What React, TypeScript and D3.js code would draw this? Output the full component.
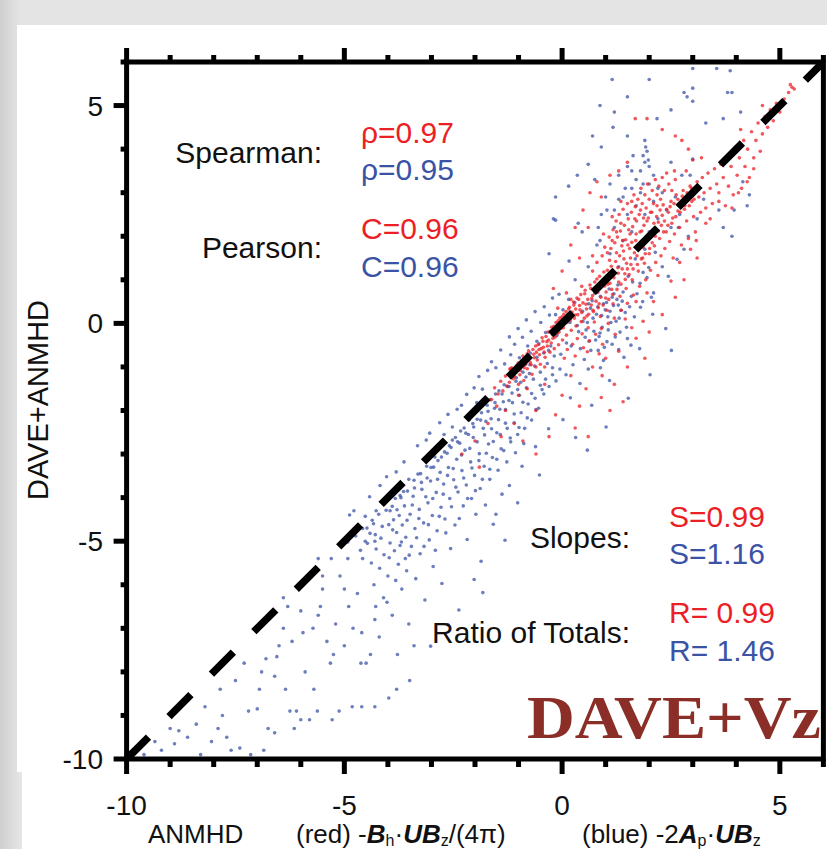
import React, { useEffect, useRef } from 'react';
import * as d3 from 'd3';

type Pt = [number, number];

// ---- blue: -2 A_p . U B_z vs DAVE+ANMHD ----
const blueTail: Pt[] = [
  [-9.6, -9.9], [-9.2, -9.8], [-8.9, -9.65], [-8.6, -9.5], [-8.4, -9.2], [-8.8, -9.35], [-8.2, -8.8],
  [-8.05, -9.6], [-7.9, -9.3], [-7.7, -9.5], [-7.85, -8.4], [-7.6, -9.8], [-7.5, -8.2], [-7.4, -9.75],
  [-7.3, -7.8], [-7.2, -8.9], [-7.15, -9.9], [-7.0, -8.85], [-6.95, -8.4], [-6.9, -8.0], [-6.85, -9.8],
  [-6.8, -7.7], [-6.75, -9.3], [-6.6, -9.4], [-6.6, -8.1], [-6.55, -7.65], [-6.5, -7.4], [-6.4, -7.0],
  [-6.4, -6.3], [-6.35, -8.4], [-6.3, -6.5], [-6.25, -8.9], [-6.2, -7.3], [-6.15, -9.3], [-6.1, -8.9],
  [-6.0, -9.1], [-6.0, -6.6], [-5.95, -7.1], [-8.3, -9.9], [-7.8, -9.0], [-9.0, -9.3], [-9.35, -9.6],
];

const blueMid: Pt[] = [
  [-5.9, -8.0], [-5.8, -9.1], [-5.7, -8.4], [-5.72, -7.0], [-5.6, -6.7], [-5.55, -6.5], [-5.62, -8.9],
  [-5.5, -5.8], [-5.6, -5.4], [-5.3, -5.4], [-5.32, -7.8], [-5.25, -7.6], [-5.28, -9.1], [-5.1, -5.8],
  [-5.12, -8.9], [-5.0, -6.1], [-4.9, -6.5], [-4.92, -5.4], [-4.88, -4.4], [-4.8, -7.0], [-4.78, -4.3],
  [-4.82, -8.8], [-4.6, -7.1], [-4.62, -7.8], [-4.58, -5.4], [-4.6, -8.8], [-4.5, -7.8], [-4.52, -5.0],
  [-4.48, -4.7], [-4.4, -7.6], [-4.3, -5.0], [-4.32, -6.0], [-4.28, -6.5], [-4.3, -6.8], [-4.33, -4.6],
  [-4.27, -4.3], [-4.3, -8.8], [-4.1, -6.3], [-4.0, -5.8], [-4.02, -6.4], [-3.98, -8.6], [-3.9, -4.2],
  [-3.8, -4.8], [-3.82, -5.9], [-3.78, -7.6], [-3.8, -8.4], [-3.7, -4.0], [-3.72, -5.1], [-3.68, -6.1],
  [-3.6, -5.4], [-3.5, -8.2], [-3.52, -6.9], [-3.4, -7.4], [-5.5, -6.1], [-5.2, -6.9], [-4.7, -6.2],
  [-4.2, -7.2], [-3.9, -6.7], [-5.4, -7.3], [-5.0, -7.4],
];

const blueBand: Pt[] = [
  [-4.92, -5.02], [-4.74, -4.88], [-4.63, -5.21], [-4.52, -4.43], [-4.41, -4.82], [-4.38, -5.5],
  [-4.27, -5.18], [-4.21, -4.38], [-4.16, -4.93], [-4.09, -5.31], [-4.06, -4.07], [-3.98, -4.62],
  [-3.95, -5.04], [-3.91, -3.88], [-3.87, -4.51], [-3.85, -5.22], [-3.79, -4.28], [-3.76, -5.53],
  [-3.7, -3.72], [-3.67, -4.63], [-3.62, -4.19], [-3.59, -4.91], [-3.57, -5.68], [-3.52, -3.58],
  [-3.49, -4.38], [-3.46, -5.12], [-3.42, -3.97], [-3.38, -4.71], [-3.36, -5.86], [-3.31, -3.46],
  [-3.28, -4.27], [-3.26, -5.29], [-3.22, -3.81], [-3.18, -4.58], [-3.15, -6.35], [-3.11, -3.28],
  [-3.08, -4.12], [-3.05, -4.97], [-3.02, -3.62], [-2.98, -4.41], [-2.96, -5.58], [-2.92, -3.07],
  [-2.89, -3.88], [-2.87, -4.76], [-2.83, -2.81], [-2.8, -3.42], [-2.78, -4.22], [-2.76, -5.97],
  [-2.72, -3.69], [-2.69, -4.49], [-2.64, -2.98], [-2.61, -3.31], [-2.58, -4.02], [-2.56, -5.17],
  [-2.52, -2.68], [-2.49, -3.59], [-2.46, -4.63], [-2.42, -3.12], [-2.39, -3.87], [-2.37, -6.58],
  [-2.33, -2.47], [-2.3, -3.38], [-2.27, -4.19], [-2.23, -2.91], [-2.2, -3.71], [-2.18, -4.96],
  [-2.13, -2.21], [-2.1, -3.18], [-2.08, -4.02], [-2.04, -2.62], [-2.01, -3.49], [-1.98, -4.38],
  [-1.93, -1.98], [-1.9, -2.99], [-1.88, -3.79], [-1.86, -5.46], [-1.81, -2.41], [-1.79, -3.28],
  [-1.76, -4.17], [-1.72, -1.88], [-1.69, -2.77], [-1.66, -3.58], [-1.63, -2.19], [-1.6, -3.08],
  [-1.58, -4.61], [-1.53, -1.62], [-1.5, -2.51], [-1.47, -3.37], [-1.43, -1.97], [-1.4, -2.88],
  [-1.38, -3.92], [-1.33, -1.41], [-1.3, -2.29], [-1.27, -3.18], [-1.22, -1.77], [-1.19, -2.63],
  [-1.13, -1.19], [-1.1, -2.08], [-1.07, -2.97], [-1.02, -1.52], [-0.99, -2.39], [-0.93, -0.91],
  [-0.9, -1.81], [-0.88, -2.76], [-0.83, -1.23], [-0.8, -2.17], [-0.73, -0.68], [-0.7, -1.61],
  [-0.63, -0.98], [-0.6, -1.98], [-0.53, -0.47], [-0.5, -1.42],
  // above the diagonal
  [-4.42, -3.98], [-4.03, -3.52], [-3.63, -3.18], [-3.32, -2.81], [-3.04, -2.52], [-2.81, -2.28],
  [-2.62, -2.09], [-2.41, -1.97], [-2.19, -1.63], [-2.02, -1.48], [-1.91, -1.22], [-1.83, -1.51],
  [-1.71, -1.08], [-1.62, -0.88], [-1.52, -1.02], [-1.41, -0.61], [-1.32, -0.93], [-1.21, -0.31],
  [-1.18, -0.72], [-1.09, -0.48], [-1.01, -0.12], [-0.98, -0.79], [-0.91, -0.32], [-0.82, 0.08],
  [-0.79, -0.52], [-0.71, -0.18], [-0.62, 0.27], [-0.58, -0.41], [-0.49, 0.02], [-0.41, 0.38],
  [-0.38, -0.21], [-0.29, 0.19], [-0.22, 0.58], [-3.81, -3.41], [-3.12, -2.68], [-2.52, -2.38],
  [-2.31, -1.88], [-4.18, -3.72], [-2.71, -2.55], [-1.96, -1.82],
  // on the diagonal
  [-3.95, -4.3], [-3.72, -3.95], [-3.55, -3.85], [-3.4, -3.6], [-3.25, -3.45], [-3.1, -3.55],
  [-2.95, -3.3], [-2.85, -3.15], [-2.7, -2.95], [-2.55, -2.85], [-2.45, -2.62], [-2.35, -2.75],
  [-2.25, -2.4], [-2.15, -2.55], [-2.05, -2.3], [-1.95, -2.2], [-1.85, -2.05], [-1.75, -2.25],
  [-1.65, -1.75], [-1.55, -1.95], [-1.45, -1.55], [-1.35, -1.8], [-1.25, -1.45], [-1.15, -1.6],
  [-1.05, -1.25], [-0.95, -1.35], [-0.85, -0.95], [-0.75, -1.15],
];

const blueBand2: Pt[] = [
  [-4.58, -4.71], [-4.47, -5.05], [-4.36, -4.52], [-4.29, -4.85], [-4.19, -5.62], [-4.13, -4.66],
  [-4.04, -4.29], [-3.97, -5.38], [-3.89, -4.74], [-3.83, -4.02], [-3.74, -4.41], [-3.69, -5.02],
  [-3.64, -3.86], [-3.56, -4.52], [-3.51, -5.32], [-3.44, -4.17], [-3.39, -3.78], [-3.34, -4.92],
  [-3.29, -4.48], [-3.23, -3.65], [-3.17, -5.12], [-3.13, -3.98], [-3.07, -4.62], [-3.01, -3.31],
  [-2.97, -4.02], [-2.91, -5.21], [-2.86, -3.58], [-2.82, -4.43], [-2.77, -3.07], [-2.73, -3.92],
  [-2.67, -4.81], [-2.63, -3.49], [-2.59, -2.81], [-2.54, -4.21], [-2.5, -3.33], [-2.44, -3.76],
  [-2.4, -2.72], [-2.36, -4.48], [-2.31, -3.02], [-2.26, -3.55], [-2.21, -2.52], [-2.17, -4.02],
  [-2.12, -2.87], [-2.07, -3.32], [-2.03, -2.38], [-1.99, -3.84], [-1.95, -2.72], [-1.91, -3.15],
  [-1.87, -2.22], [-1.83, -3.58], [-1.78, -2.56], [-1.74, -2.98], [-1.7, -2.02], [-1.66, -3.35],
  [-1.62, -2.42], [-1.58, -2.71], [-1.54, -1.82], [-1.5, -3.12], [-1.46, -2.21], [-1.42, -2.55],
  [-1.38, -1.62], [-1.34, -2.92], [-1.3, -1.98], [-1.26, -2.41], [-1.22, -1.45], [-1.18, -2.72],
  [-1.14, -1.82], [-1.1, -2.28], [-1.06, -1.33], [-1.02, -2.55], [-0.98, -1.65], [-0.94, -2.05],
  [-0.9, -1.12], [-0.86, -2.41], [-0.82, -1.48], [-0.78, -1.85], [-0.74, -0.95], [-0.7, -2.22],
  [-0.66, -1.28], [-0.62, -1.72], [-0.58, -0.78], [-0.54, -1.95], [-0.5, -1.12], [-0.46, -1.52],
  [-0.42, -0.68], [-0.38, -1.28], [-0.34, -0.92], [-0.3, -1.45], [-0.26, -0.52], [-0.22, -1.18],
  [-0.18, -0.75], [-0.14, -1.32],
];

const blueCore: Pt[] = [
  [-0.31, -0.62], [-0.22, -1.02], [-0.12, -0.28], [-0.03, -0.71], [0.02, 0.31], [0.09, -1.18],
  [0.18, 0.02], [0.21, -0.52], [0.29, 0.48], [0.38, -0.19], [0.47, 0.28], [0.51, -0.83], [0.58, 0.02],
  [0.62, -0.41], [0.69, 0.52], [0.73, -0.18], [0.79, 0.21], [0.83, -0.62], [0.88, 0.62], [0.92, -0.09],
  [0.99, 0.31], [1.03, -0.42], [1.08, 0.79], [1.12, 0.02], [1.18, 0.41], [1.22, -0.31], [1.28, 0.88],
  [1.31, 0.12], [1.38, 0.51], [1.48, -0.09], [1.52, 1.08], [1.59, 0.62], [1.68, 1.48], [1.79, 0.92],
  [1.88, 1.91], [1.99, 1.28], [0.41, -1.38], [0.88, -1.02], [1.42, -0.78], [-0.42, -1.62], [0.19, -1.71],
  [0.68, -1.88], [1.09, -1.31], [2.08, 0.21], [2.38, -0.12], [1.78, -0.58], [0.65, 0.35], [0.75, 0.7],
  [0.95, 0.45], [1.15, 0.6], [1.35, 0.3], [0.55, -0.15], [0.85, -0.3], [1.05, 0.15],
  [0.42, -0.58], [0.48, 0.05], [0.53, -0.32], [0.61, 0.45], [0.66, -0.62], [0.71, 0.12], [0.77, -0.38],
  [0.82, 0.38], [0.87, -0.22], [0.91, 0.18], [0.97, -0.55], [1.02, 0.48], [1.06, -0.15], [1.1, 0.28],
  [1.15, -0.48], [1.19, 0.68], [1.24, 0.05], [1.29, 0.42], [1.33, -0.2], [1.4, 0.72], [1.45, 0.25],
  [1.5, -0.35], [1.55, 0.38], [1.62, 0.95], [1.66, 0.15], [1.72, 0.68], [1.3, -0.6], [0.95, -0.85],
  [0.6, -1.05], [0.25, -0.95], [0.1, -0.45], [-0.05, -1.05], [1.85, 0.5], [1.95, 1.05], [2.05, 0.6],
  [1.58, -0.5], [0.35, -0.05], [0.15, 0.55], [0.0, 0.05], [-0.15, 0.2],
];

const blueLow: Pt[] = [
  [-1.52, -4.38], [-1.21, -3.72], [-0.92, -3.28], [-0.61, -2.83], [-0.31, -2.42], [0.02, -2.21],
  [0.31, -2.62], [-1.02, -4.12], [-0.52, -3.48], [0.58, -2.91], [1.01, -2.38], [1.52, -1.72],
  [2.02, -1.18], [2.51, -0.62], [-2.02, -5.88], [-1.31, -4.98], [-2.62, -6.92], [-3.02, -7.41],
  [-1.82, -6.18],
];

const blueUp: Pt[] = [
  [1.15, 5.6], [1.5, 5.2], [2.0, 5.6], [0.87, 5.0], [1.2, 4.85], [0.7, 4.3], [1.17, 4.5], [1.5, 4.3],
  [0.9, 4.05], [0.6, 3.65], [0.75, 3.3], [0.35, 3.4], [0.15, 3.15], [-0.15, 2.9], [-0.2, 2.4],
  [0.37, 2.3], [0.46, 2.1], [0.83, 2.2], [0.87, 1.9], [1.03, 2.6], [1.3, 2.85], [1.45, 3.1], [1.6, 3.5],
  [1.63, 3.85], [1.9, 4.2], [1.92, 4.05], [1.95, 3.95], [1.86, 3.85], [1.98, 3.75], [1.9, 3.7],
  [2.0, 3.6], [1.8, 3.5], [2.1, 3.4], [1.7, 3.3], [1.86, 3.2], [2.2, 3.1], [2.18, 4.7], [2.5, 4.9],
  [2.8, 5.3], [3.0, 5.4], [2.87, 5.2], [3.0, 5.1], [3.3, 4.6], [3.7, 4.7], [3.55, 5.85], [3.86, 5.8],
  [3.0, 5.85], [4.1, 4.85], [3.9, 5.3], [2.5, 3.7], [2.75, 3.4], [3.0, 3.77], [2.94, 3.4], [3.25, 2.85],
  [3.6, 2.6], [3.7, 2.2], [3.9, 2.0], [4.15, 3.25], [4.3, 2.95], [4.25, 2.7], [3.95, 2.6], [2.67, 2.2],
  [2.8, 1.7], [2.64, 1.47], [2.3, 1.3], [2.44, 1.08], [2.1, 0.7], [1.8, 0.37], [1.86, 1.17], [2.14, 1.63],
  [2.9, 2.0], [3.1, 2.4], [1.26, 0.55], [3.8, 5.3], [-0.15, 2.37], [-0.3, 1.6], [0.16, 1.43], [-0.07, 0.67],
  [1.0, 2.9], [1.1, 3.2], [1.2, 2.6], [1.3, 3.4], [1.4, 2.9], [1.5, 3.6], [1.5, 2.5], [1.6, 3.1],
  [1.7, 2.7], [1.8, 3.0], [1.9, 2.5], [2.0, 3.2], [2.1, 2.8], [2.2, 2.4], [2.3, 3.0], [2.4, 2.6],
  [1.2, 2.2], [1.6, 2.1], [2.0, 2.1], [2.5, 2.2], [0.9, 2.5], [1.4, 1.9], [1.9, 1.7], [2.6, 2.9],
  [2.7, 2.5], [1.1, 1.6], [0.6, 1.3], [0.8, 1.8], [0.3, 1.0], [1.3, 1.3],
];

// ---- red: -B_h . U B_z/(4 pi) vs DAVE+ANMHD ----
const redCore: Pt[] = [
  [-1.62, -1.75], [-1.55, -1.48], [-1.47, -1.62], [-1.41, -1.33], [-1.36, -1.55], [-1.3, -1.21],
  [-1.27, -1.44], [-1.21, -1.35], [-1.16, -1.02], [-1.12, -1.27], [-1.06, -1.12], [-1.01, -0.91],
  [-0.97, -1.18], [-0.93, -0.99], [-0.88, -1.31], [-0.84, -0.82], [-0.8, -1.04], [-0.77, -0.63],
  [-0.73, -0.9], [-0.69, -1.17], [-0.65, -0.71], [-0.61, -0.52], [-0.57, -0.84], [-0.53, -0.6],
  [-0.5, -0.94], [-0.46, -0.33], [-0.43, -0.55], [-0.39, -0.78], [-0.35, -0.42], [-0.32, -0.2],
  [-0.28, -0.66], [-0.24, -0.09], [-0.21, -0.34], [-0.18, -0.58], [-0.8, -0.7], [-1.0, -1.4],
  [-0.6, -1.0], [-1.2, -1.05], [-0.4, -1.0], [-0.9, -0.75],
  [-0.14, 0.02], [-0.11, -0.23], [-0.08, -0.49], [-0.05, 0.12], [-0.02, -0.11], [0.01, -0.38],
  [0.04, 0.21], [0.07, 0.03], [0.1, -0.27], [0.12, -0.6], [0.15, 0.33], [0.18, 0.11], [0.21, -0.16],
  [0.24, -0.48], [0.27, 0.42], [0.3, 0.19], [0.32, -0.06], [0.35, -0.35], [0.38, 0.55], [0.41, 0.31],
  [0.44, 0.04], [0.46, -0.24], [0.49, -0.56], [0.52, 0.68], [0.55, 0.44], [0.57, 0.17], [0.6, -0.1],
  [0.63, -0.4], [0.66, 0.8], [0.68, 0.57], [0.71, 0.3], [0.74, 0.03], [0.77, -0.25], [0.8, 1.02],
  [0.82, 0.71], [0.85, 0.45], [0.88, 0.16], [0.9, -0.12], [0.93, -0.48], [0.96, 1.18], [0.98, 0.86],
  [1.0, 0.58], [0.05, -0.8], [0.3, -0.75], [0.58, -0.65], [0.2, 0.55], [0.45, 0.85], [0.7, 1.2],
  [0.85, -0.7], [-0.1, 0.35],
  [1.03, 0.3], [1.06, 0.0], [1.09, 1.45], [1.11, 1.1], [1.14, 0.78], [1.17, 0.45], [1.2, 0.12],
  [1.22, -0.25], [1.25, 1.62], [1.28, 1.28], [1.3, 0.95], [1.33, 0.62], [1.36, 0.3], [1.39, 1.9],
  [1.42, 1.48], [1.44, 1.14], [1.47, 0.8], [1.5, 0.46], [1.53, 2.15], [1.55, 1.72], [1.58, 1.35],
  [1.61, 1.0], [1.64, 0.65], [1.67, 2.4], [1.69, 1.9], [1.72, 1.55], [1.75, 1.2], [1.78, 0.85],
  [1.8, 2.6], [1.83, 2.12], [1.86, 1.75], [1.89, 1.38], [1.92, 1.0], [1.95, 2.35], [1.97, 1.96],
  [2.0, 1.6], [2.03, 1.22], [2.06, 2.55], [2.09, 2.15], [2.12, 1.78], [2.15, 1.4], [2.18, 2.7],
  [2.21, 2.32], [2.24, 1.95], [2.27, 1.55], [2.3, 2.48], [2.33, 2.1], [2.36, 1.72], [2.4, 2.62],
  [1.15, 1.9], [1.35, 2.3], [1.6, 2.8], [1.45, 0.1], [1.7, 0.5], [1.95, 0.7], [2.2, 1.1], [1.25, 2.1],
  [1.05, 0.9], [1.5, 1.25], [1.85, 1.5],
  [2.43, 2.25], [2.47, 1.88], [2.5, 2.8], [2.54, 2.42], [2.58, 2.05], [2.62, 2.95], [2.66, 2.58],
  [2.7, 2.2], [2.74, 1.8], [2.78, 3.05], [2.82, 2.7], [2.86, 2.35], [2.9, 1.95], [2.94, 3.15],
  [2.98, 2.8], [3.02, 2.45], [3.06, 2.1], [3.1, 3.25], [3.14, 2.9], [3.18, 2.55], [3.22, 3.35],
  [3.26, 3.0], [3.3, 2.65], [3.35, 3.45], [3.4, 3.1], [3.45, 2.75], [3.5, 3.55], [3.55, 3.2],
  [2.6, 3.3], [2.85, 3.5], [3.0, 3.75], [2.55, 1.5], [2.95, 1.7], [3.3, 2.3],
];

// the solid strip right on the one-to-one line
const redStrip: Pt[] = [
  [-1.18, -1.05], [-1.09, -1.22], [-1.04, -0.97], [-0.96, -1.08], [-0.92, -0.86], [-0.87, -1.02],
  [-0.83, -0.93], [-0.78, -0.74], [-0.74, -0.81], [-0.71, -0.95], [-0.67, -0.6], [-0.64, -0.79],
  [-0.59, -0.66], [-0.55, -0.49], [-0.52, -0.72], [-0.48, -0.58], [-0.44, -0.41], [-0.41, -0.66],
  [-0.37, -0.3], [-0.34, -0.52], [-0.31, -0.38], [-0.27, -0.18], [-0.25, -0.45], [-0.22, -0.26],
  [-0.19, -0.07], [-0.16, -0.31], [-0.13, -0.16], [-0.09, 0.06], [-0.07, -0.2], [-0.04, -0.02],
  [0.0, 0.15], [0.03, -0.1], [0.06, 0.08], [0.09, 0.27], [0.11, 0.02], [0.14, 0.19], [0.17, 0.37],
  [0.19, 0.08], [0.23, 0.26], [0.26, 0.49], [0.28, 0.12], [0.31, 0.33], [0.34, 0.58], [0.36, 0.2],
  [0.4, 0.41], [0.43, 0.66], [0.45, 0.25], [0.48, 0.47], [0.51, 0.12], [0.53, 0.76], [0.56, 0.33],
  [0.59, 0.55], [0.61, 0.21], [0.64, 0.88], [0.67, 0.42], [0.7, 0.64], [0.72, 0.27], [0.75, 0.95],
  [0.78, 0.51], [0.81, 0.75], [0.83, 0.36], [0.86, 1.08], [0.89, 0.6], [0.91, 0.84], [0.94, 0.42],
  [0.97, 1.01], [1.01, 0.72], [1.04, 1.22], [1.07, 0.55], [1.1, 0.92], [1.13, 1.31], [1.16, 0.66],
  [1.19, 1.05], [1.23, 1.42], [1.26, 0.78], [1.29, 1.15], [1.32, 1.55], [1.35, 0.9], [1.38, 1.25],
  [1.41, 1.66], [1.45, 1.01], [1.48, 1.38], [1.51, 1.8], [1.54, 1.12], [1.57, 1.5], [1.6, 1.86],
  [1.63, 1.25], [1.66, 1.62], [1.7, 2.05], [1.73, 1.35], [1.76, 1.72], [1.79, 2.1], [1.82, 1.48],
  [1.85, 1.88], [1.88, 2.25], [1.91, 1.6], [1.94, 2.0], [1.98, 2.42], [2.01, 1.72], [2.04, 2.1],
  [2.07, 1.85], [2.11, 2.3], [2.14, 2.0], [2.17, 2.45], [2.21, 2.12], [2.25, 2.6], [2.28, 2.25],
  [2.32, 2.72], [2.35, 2.35], [2.39, 2.1], [2.44, 2.55], [2.48, 2.68], [2.52, 2.3], [2.57, 2.75],
  [2.61, 2.45], [2.66, 2.85], [2.71, 2.55], [2.76, 2.92], [2.81, 2.62], [2.87, 3.0], [2.92, 2.7],
  [2.97, 3.1], [3.03, 2.85],
];

// red wedge above the line at x ~ 1..2.5
const redFan: Pt[] = [
  [0.92, 1.55], [0.98, 1.75], [1.04, 1.62], [1.08, 1.98], [1.12, 1.72], [1.17, 2.15], [1.21, 1.85],
  [1.24, 2.35], [1.27, 1.98], [1.31, 2.5], [1.34, 2.12], [1.37, 1.78], [1.4, 2.62], [1.43, 2.25],
  [1.46, 1.92], [1.5, 2.75], [1.52, 2.4], [1.56, 2.05], [1.59, 2.55], [1.62, 2.22], [1.65, 2.95],
  [1.68, 2.68], [1.71, 2.35], [1.74, 2.85], [1.77, 2.5], [1.81, 3.1], [1.84, 2.75], [1.87, 2.42],
  [1.9, 2.95], [1.93, 2.65], [1.96, 3.2], [2.0, 2.85], [2.03, 2.55], [2.07, 3.05], [2.1, 2.75],
  [2.14, 3.3], [2.18, 2.95], [2.22, 3.15], [2.26, 2.85], [2.3, 3.35], [2.35, 3.05], [2.4, 3.45],
  [2.45, 3.2], [2.52, 3.05], [2.58, 3.5], [0.8, 1.4], [0.7, 1.55], [0.95, 2.05], [1.15, 2.45],
  [1.35, 2.8],
];

const redUpper: Pt[] = [
  [3.6, 3.0], [3.65, 3.65], [3.7, 3.35], [3.75, 2.7], [3.8, 3.85], [3.82, 3.15], [3.88, 3.6],
  [3.93, 2.95], [3.98, 4.05], [4.02, 3.4], [4.07, 3.8], [4.12, 3.1], [4.17, 4.2], [4.2, 3.6],
  [4.26, 4.0], [4.3, 3.35], [4.35, 4.4], [4.4, 3.8], [4.45, 4.2], [4.5, 4.6], [4.55, 3.95], [4.6, 4.35],
  [4.66, 4.75], [4.72, 4.5], [4.78, 4.9], [4.85, 4.65], [4.92, 5.05], [5.0, 4.85], [5.1, 5.15],
  [5.2, 5.3], [5.28, 5.42], [5.33, 5.38], [5.24, 5.48], [4.05, 3.0], [4.25, 3.25], [3.9, 2.65],
  [4.4, 3.55], [4.1, 4.45], [4.6, 5.0],
];

const redLow: Pt[] = [
  [0.0, -1.65], [0.55, -1.5], [0.92, -1.2], [1.3, -0.64], [1.7, -0.34], [1.86, 0.05], [2.1, 0.5],
  [2.5, 0.97], [2.7, 1.4], [3.08, 1.9], [3.4, 2.4], [3.6, 2.8], [-1.0, -1.65], [-0.6, -2.0],
  [-0.15, -2.1], [-1.3, -2.0], [-1.5, -1.9], [-0.8, -1.5], [-1.1, -2.3], [-0.4, -1.4], [0.2, -1.2],
  [0.4, -1.9], [0.7, -1.0], [1.0, -0.8], [1.2, -1.4], [1.5, -1.0], [0.9, -1.7], [1.6, -0.1],
  [2.0, -0.2], [2.3, 0.2], [2.6, 0.6], [1.4, -1.8], [0.3, -2.4], [-0.3, -2.6], [-0.9, -2.7],
  [-2.0, -2.7], [-1.7, -2.3], [-2.3, -3.0], [-1.9, -3.3], [-1.4, -2.6], [-0.6, -3.0], [1.1, -2.0],
  [2.8, 1.0], [3.1, 1.5], [1.9, -0.8], [0.6, -2.6],
];

const redArc: Pt[] = [
  [0.48, 2.6], [0.64, 3.0], [0.8, 3.25], [1.1, 3.4], [1.3, 3.5], [1.68, 4.7], [1.95, 4.7], [2.3, 4.45],
  [2.6, 4.3], [2.75, 4.2], [0.3, 2.2], [0.2, 1.8], [0.6, 2.2], [0.9, 2.9], [1.5, 3.7], [2.9, 4.0],
  [3.2, 3.8], [0.0, 1.2], [0.4, 1.5], [-0.2, 0.8], [0.1, 0.7],
];

const majorTicks = [-10, -5, 0, 5];
const minorTicks = d3.range(-10, 7, 1);
const tickLabels = ['-10', '-5', '0', '5'];

const statNames = ['Spearman:', 'Pearson:', 'Slopes:', 'Ratio of Totals:'];
const redStats = ['ρ=0.97', 'C=0.96', 'S=0.99', 'R= 0.99'];
const blueStats = ['ρ=0.95', 'C=0.96', 'S=1.16', 'R= 1.46'];

const RED = '#ec1f26';
const BLUE = '#3b53a5';
const SANS = '"Liberation Sans", Arial, Helvetica, sans-serif';

const App: React.FC = () => {
  const svgRef = useRef<SVGSVGElement>(null);

  useEffect(() => {
    if (!svgRef.current) return;
    const W = 827;
    const H = 849;

    const svg = d3.select(svgRef.current);
    svg.selectAll('*').remove();
    svg.attr('width', W).attr('height', H).style('font-family', SANS);

    /* background: photographed slide */
    const defs = svg.append('defs');
    const lg = defs.append('linearGradient').attr('id', 'sideShade')
      .attr('x1', 0).attr('x2', 1).attr('y1', 0).attr('y2', 0);
    lg.append('stop').attr('offset', '0%').attr('stop-color', '#cfcfcf');
    lg.append('stop').attr('offset', '100%').attr('stop-color', '#e6e6e6');
    svg.append('rect').attr('width', W).attr('height', H).attr('fill', '#e4e4e4');
    svg.append('rect').attr('width', 22).attr('height', H).attr('fill', 'url(#sideShade)');
    svg.append('rect').attr('x', 17).attr('y', 25).attr('width', W - 17).attr('height', 747).attr('fill', '#fff');
    svg.append('rect').attr('x', 22).attr('y', 772).attr('width', W - 22).attr('height', H - 772).attr('fill', '#fff');

    const x = d3.scaleLinear().domain([-10, 6]).range([126.6, 823.4]);
    const y = d3.scaleLinear().domain([-10, 6]).range([759, 62]);

    defs.append('clipPath').attr('id', 'plotClip')
      .append('rect')
      .attr('x', x(-10)).attr('y', y(6))
      .attr('width', x(6) - x(-10)).attr('height', y(-10) - y(6));

    const plot = svg.append('g').attr('clip-path', 'url(#plotClip)');

    const drawPts = (pts: Pt[], color: string) => {
      plot.append('g')
        .selectAll('circle')
        .data(pts)
        .join('circle')
        .attr('cx', d => x(d[0]))
        .attr('cy', d => y(d[1]))
        .attr('r', 1.8)
        .attr('fill', color)
        .attr('fill-opacity', 0.75);
    };

    [blueTail, blueMid, blueBand, blueBand2, blueCore, blueLow, blueUp].forEach(p => drawPts(p, BLUE));
    [redLow, redArc, redCore, redFan, redStrip, redUpper].forEach(p => drawPts(p, RED));

    // one-to-one line
    plot.append('line')
      .attr('x1', x(-10)).attr('y1', y(-10))
      .attr('x2', x(6)).attr('y2', y(6))
      .attr('stroke', '#000')
      .attr('stroke-width', 7.5)
      .attr('stroke-dasharray', '31 29');

    /* frame + ticks */
    const axisG = svg.append('g').attr('stroke', '#000').attr('stroke-width', 5);
    axisG.append('rect')
      .attr('x', x(-10)).attr('y', y(6))
      .attr('width', x(6) - x(-10)).attr('height', y(-10) - y(6))
      .attr('fill', 'none');

    const tickLen = (v: number, major: number, minor: number) =>
      majorTicks.includes(v) ? major : minor;

    minorTicks.forEach(v => {
      axisG.append('line')
        .attr('x1', x(v)).attr('x2', x(v))
        .attr('y1', y(-10)).attr('y2', y(-10) + tickLen(v, 15, 8));
      axisG.append('line')
        .attr('x1', x(v)).attr('x2', x(v))
        .attr('y1', y(6)).attr('y2', y(6) - tickLen(v, 14, 7));
      axisG.append('line')
        .attr('x1', x(-10)).attr('x2', x(-10) - tickLen(v, 13, 6))
        .attr('y1', y(v)).attr('y2', y(v));
    });

    /* tick labels */
    svg.append('g')
      .selectAll('text')
      .data(majorTicks)
      .join('text')
      .attr('x', d => x(d))
      .attr('y', 815)
      .attr('text-anchor', 'middle')
      .attr('font-size', 28)
      .attr('fill', '#111')
      .text((d, i) => tickLabels[i]);

    svg.append('g')
      .selectAll('text')
      .data(majorTicks)
      .join('text')
      .attr('x', 103)
      .attr('y', d => y(d) + 10)
      .attr('text-anchor', 'end')
      .attr('font-size', 28)
      .attr('fill', '#111')
      .text((d, i) => tickLabels[i]);

    /* axis titles */
    svg.append('text')
      .attr('transform', 'translate(48,400) rotate(-90)')
      .attr('text-anchor', 'middle')
      .attr('font-size', 29)
      .attr('fill', '#111')
      .text('DAVE+ANMHD');

    const titleY = 843;
    const xt = svg.append('g').attr('font-size', 26).attr('fill', '#111');
    xt.append('text').attr('x', 148).attr('y', titleY).text('ANMHD');

    const red = xt.append('text').attr('x', 296).attr('y', titleY);
    red.append('tspan').text('(red) -');
    red.append('tspan').attr('font-weight', 'bold').attr('font-style', 'italic').text('B');
    red.append('tspan').attr('font-size', 16).attr('dy', 3).text('h');
    red.append('tspan').attr('dy', -3).text('·');
    red.append('tspan').attr('font-weight', 'bold').attr('font-style', 'italic').text('UB');
    red.append('tspan').attr('font-size', 16).attr('dy', 3).text('z');
    red.append('tspan').attr('dy', -3).text('/(4π)');

    const blue = xt.append('text').attr('x', 582).attr('y', titleY);
    blue.append('tspan').text('(blue) -2');
    blue.append('tspan').attr('font-weight', 'bold').attr('font-style', 'italic').text('A');
    blue.append('tspan').attr('font-size', 16).attr('dy', 3).text('p');
    blue.append('tspan').attr('dy', -3).text('·');
    blue.append('tspan').attr('font-weight', 'bold').attr('font-style', 'italic').text('UB');
    blue.append('tspan').attr('font-size', 16).attr('dy', 3).text('z');

    /* statistics */
    const nameX = [322, 322, 630, 630];
    const nameY = [163, 258, 548, 643];
    const valX = [361, 361, 669, 669];
    const redY = [143, 239, 527, 623];
    const blueY = [180, 277, 564, 661];

    const st = svg.append('g').attr('font-size', 30);
    statNames.forEach((s, i) => {
      st.append('text').attr('x', nameX[i]).attr('y', nameY[i])
        .attr('text-anchor', 'end').attr('fill', '#111').text(s);
      st.append('text').attr('x', valX[i]).attr('y', redY[i])
        .attr('fill', RED).text(redStats[i]);
      st.append('text').attr('x', valX[i]).attr('y', blueY[i])
        .attr('fill', BLUE).text(blueStats[i]);
    });

    svg.append('text')
      .attr('x', 527)
      .attr('y', 738)
      .attr('font-family', '"Liberation Serif", "Times New Roman", serif')
      .attr('font-weight', 'bold')
      .attr('font-size', 62)
      .attr('fill', '#8a2e27')
      .attr('textLength', 294)
      .attr('lengthAdjust', 'spacingAndGlyphs')
      .text('DAVE+Vz');
  }, []);

  return (
    <svg
      ref={svgRef}
      style={{ position: 'absolute', left: 0, top: 0, background: '#fff' }}
    />
  );
};

export default App;
